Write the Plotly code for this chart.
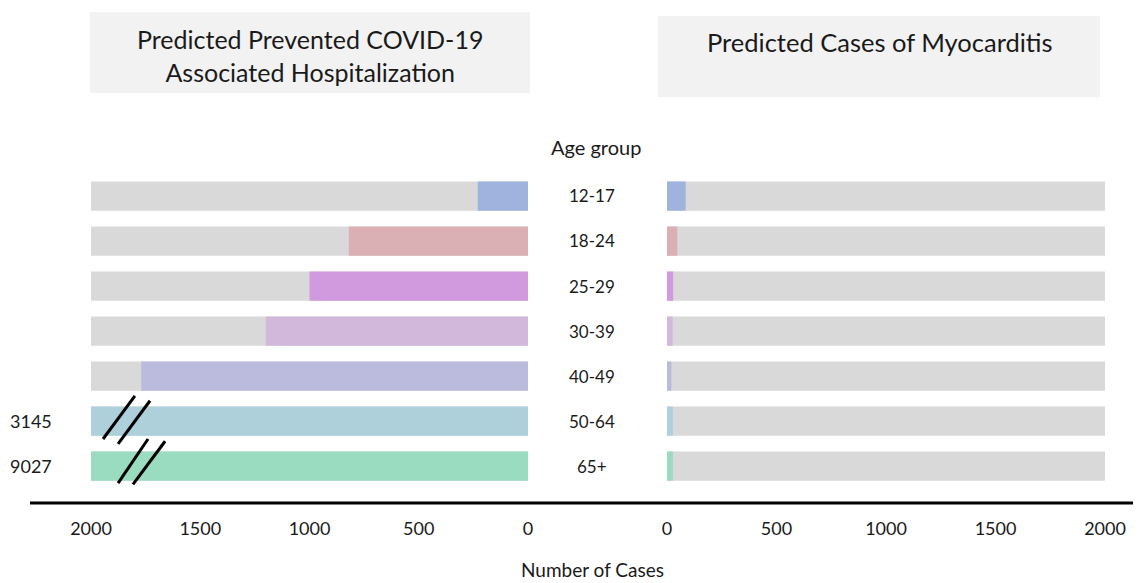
import plotly.graph_objects as go

age_groups = ["12-17", "18-24", "25-29", "30-39", "40-49", "50-64", "65+"]
hosp_prevented = [230, 820, 1000, 1200, 1770, 3145, 9027]
myocarditis = [85, 47, 28, 26, 20, 27, 27]
colors = ["#a0b3de", "#dbb0b5", "#d199de", "#d2b9dc", "#bbbbdd", "#aed0da", "#9adcc0"]
tick_vals = [0, 500, 1000, 1500, 2000]
axis_max = 2000

OFF = 8  # page body margin offset
W, H = 1141 - OFF, 583 - OFF
FONT = "Lato"
TXT = "#1a1a1a"

def px_x(p):
    return (p - OFF) / W

def px_y(p):
    return 1 - (p - OFF) / H

rows = list(range(len(age_groups)))
hosp_shown = [min(v, axis_max) for v in hosp_prevented]

fig = go.Figure()
fig.add_trace(go.Bar(y=rows, x=[axis_max] * len(rows), orientation="h", marker=dict(color="#d9d9d9", line=dict(width=0)),
                     width=0.65, xaxis="x", yaxis="y", showlegend=False, hoverinfo="skip"))
fig.add_trace(go.Bar(y=rows, x=hosp_shown, orientation="h", marker=dict(color=colors, line=dict(width=0)),
                     width=0.65, xaxis="x", yaxis="y", showlegend=False, customdata=hosp_prevented,
                     hovertemplate="%{customdata}<extra></extra>"))
fig.add_trace(go.Bar(y=rows, x=[axis_max] * len(rows), orientation="h", marker=dict(color="#d9d9d9", line=dict(width=0)),
                     width=0.65, xaxis="x2", yaxis="y2", showlegend=False, hoverinfo="skip"))
fig.add_trace(go.Bar(y=rows, x=myocarditis, orientation="h", marker=dict(color=colors, line=dict(width=0)),
                     width=0.65, xaxis="x2", yaxis="y2", showlegend=False))

ydom = [px_y(488.5), px_y(173.5)]
axis_pos = px_y(503)
common_x = dict(tickvals=tick_vals, showgrid=False, zeroline=False, showline=False, ticks="outside", ticklen=9,
                tickcolor="rgba(0,0,0,0)", tickfont=dict(family=FONT, size=18, color=TXT), anchor="free",
                position=axis_pos, fixedrange=True)
fig.update_layout(
    width=W, height=H, margin=dict(l=0, r=0, t=0, b=0, autoexpand=False),
    plot_bgcolor="white", paper_bgcolor="white", barmode="overlay",
    xaxis=dict(domain=[px_x(91), px_x(528)], range=[axis_max, 0], **common_x),
    xaxis2=dict(domain=[px_x(667), px_x(1105)], range=[0, axis_max], **common_x),
    yaxis=dict(domain=ydom, range=[6.5, -0.5], visible=False, anchor="x"),
    yaxis2=dict(domain=ydom, range=[6.5, -0.5], visible=False, anchor="x2"),
)

shapes = []
shapes.append(dict(type="rect", xref="paper", yref="paper", x0=px_x(90), x1=px_x(530), y0=px_y(93), y1=px_y(12),
                   fillcolor="#f2f2f2", line=dict(width=0), layer="below"))
shapes.append(dict(type="rect", xref="paper", yref="paper", x0=px_x(658), x1=px_x(1100), y0=px_y(97), y1=px_y(16),
                   fillcolor="#f2f2f2", line=dict(width=0), layer="below"))
shapes.append(dict(type="line", xref="paper", yref="paper", x0=px_x(30), x1=1, y0=axis_pos, y1=axis_pos,
                   line=dict(color="black", width=3)))
breaks = [
    (5, [(1945, 0.40, 1799, -0.56), (1876, 0.51, 1730, -0.45)]),
    (6, [(1876, 0.38, 1739, -0.60), (1808, 0.41, 1661, -0.55)]),
]
for r, segs in breaks:
    for xa, ya, xb, yb in segs:
        shapes.append(dict(type="line", xref="x", yref="y", x0=xa, y0=r + ya, x1=xb, y1=r + yb,
                           line=dict(color="black", width=3)))
fig.update_layout(shapes=shapes)

ann = []
ann.append(dict(text="Predicted Prevented COVID-19<br>Associated Hospitalization", xref="paper", yref="paper",
                x=px_x(310), y=px_y(55), showarrow=False, font=dict(family=FONT, size=25, color=TXT),
                xanchor="center", yanchor="middle"))
ann.append(dict(text="Predicted Cases of Myocarditis", xref="paper", yref="paper",
                x=px_x(880), y=px_y(42), showarrow=False, font=dict(family=FONT, size=25.5, color=TXT),
                xanchor="center", yanchor="middle"))
ann.append(dict(text="Age group", xref="paper", yref="paper", x=px_x(596), y=px_y(147), showarrow=False,
                font=dict(family=FONT, size=20, color=TXT), xanchor="center", yanchor="middle"))
for r, lab in zip(rows, age_groups):
    ann.append(dict(text=lab, xref="paper", yref="y", x=px_x(592), y=r, showarrow=False,
                    font=dict(family=FONT, size=17, color=TXT), xanchor="center", yanchor="middle"))
for r, v in zip(rows, hosp_prevented):
    if v > axis_max:
        ann.append(dict(text=str(v), xref="paper", yref="y", x=px_x(31), y=r, showarrow=False,
                        font=dict(family=FONT, size=18, color=TXT), xanchor="center", yanchor="middle"))
ann.append(dict(text="Number of Cases", xref="paper", yref="paper", x=px_x(592), y=px_y(569), showarrow=False,
                font=dict(family=FONT, size=19, color=TXT), xanchor="center", yanchor="middle"))
fig.update_layout(annotations=ann)

fig.write_html("out.html")
